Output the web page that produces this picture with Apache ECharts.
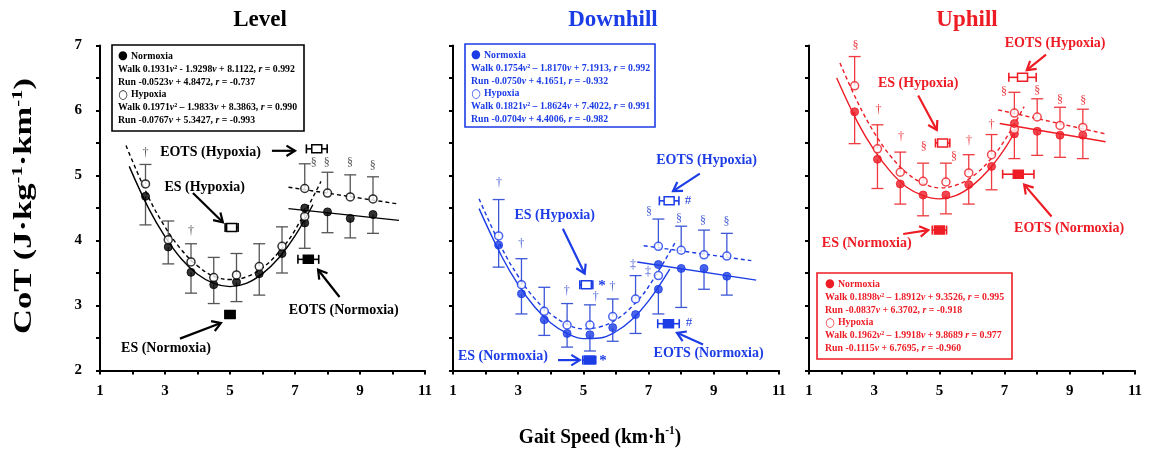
<!DOCTYPE html>
<html><head><meta charset="utf-8">
<script src="https://cdn.jsdelivr.net/npm/echarts@6/dist/echarts.min.js"></script>
<style>html,body{margin:0;padding:0;background:#fff}#c{width:1152px;height:457px}</style>
</head><body><div id="c"></div>
<script>
// ---------------- DATA ----------------
const xTickLabels = [1, 3, 5, 7, 9, 11];
const yTickLabels = [2, 3, 4, 5, 6, 7];
const walkSpeeds = [2.4, 3.1, 3.8, 4.5, 5.2, 5.9, 6.6, 7.3];
const runSpeeds = [7.3, 8.0, 8.7, 9.4];

// Level
const levelWalkN   = [4.68, 3.90, 3.51, 3.32, 3.36, 3.49, 3.80, 4.27];
const levelWalkNsd = [0.44, 0.26, 0.32, 0.29, 0.30, 0.33, 0.30, null];
const levelWalkH   = [4.87, 4.01, 3.67, 3.43, 3.47, 3.60, 3.91, 4.37];
const levelWalkHsd = [0.30, 0.29, 0.28, 0.31, 0.33, 0.35, 0.30, null];
const levelRunN    = [4.50, 4.44, 4.34, 4.40];
const levelRunNsd  = [0.62, 0.32, 0.30, 0.29];
const levelRunH    = [4.80, 4.73, 4.67, 4.64];
const levelRunHsd  = [0.38, 0.32, 0.34, 0.34];
const levelFitSpeedN = [1.9, 2.5, 3, 3.5, 4, 4.5, 5, 5.5, 6, 6.5, 7, 7.55];
const levelFitN      = [5.14, 4.49, 4.06, 3.72, 3.48, 3.34, 3.29, 3.34, 3.49, 3.73, 4.07, 4.55];
const levelFitSpeedH = [1.8, 2.5, 3, 3.5, 4, 4.5, 5, 5.5, 6, 6.5, 7, 7.8];
const levelFitH      = [5.46, 4.66, 4.21, 3.86, 3.61, 3.45, 3.40, 3.44, 3.58, 3.82, 4.16, 4.91];
const levelRunFitSpeedN = [6.8, 10.2];
const levelRunFitN      = [4.49, 4.31];
const levelRunFitSpeedH = [6.8, 10.2];
const levelRunFitH      = [4.82, 4.56];
// [speed, CoT, speed SD, normoxia?]
const levelThresholds = [[5.0, 2.86, 0.15, 1], [5.05, 4.20, 0.2, 0], [7.41, 3.71, 0.32, 1], [7.67, 5.41, 0.32, 0]];

// Downhill
const dhWalkN   = [3.93, 3.18, 2.78, 2.57, 2.55, 2.66, 2.86, 3.25];
const dhWalkNsd = [0.34, 0.31, 0.24, 0.21, 0.25, 0.21, 0.29, 0.38];
const dhWalkH   = [4.07, 3.32, 2.91, 2.70, 2.70, 2.83, 3.10, 3.46];
const dhWalkHsd = [0.56, 0.40, 0.37, 0.33, 0.31, 0.27, 0.36, null];
const dhRunN    = [3.63, 3.57, 3.57, 3.45];
const dhRunNsd  = [null, 0.60, 0.32, 0.29];
const dhRunH    = [3.91, 3.85, 3.78, 3.76];
const dhRunHsd  = [0.42, 0.37, 0.38, 0.35];
const dhFitSpeedN = [1.8, 2.5, 3, 3.5, 4, 4.5, 5, 5.5, 6, 6.5, 7, 7.65];
const dhFitN      = [4.49, 3.75, 3.32, 2.98, 2.73, 2.57, 2.49, 2.50, 2.60, 2.79, 3.07, 3.56];
const dhFitSpeedH = [1.8, 2.5, 3, 3.5, 4, 4.5, 5, 5.5, 6, 6.5, 7, 7.85];
const dhFitH      = [4.64, 3.88, 3.45, 3.11, 2.87, 2.71, 2.64, 2.67, 2.78, 2.99, 3.29, 4.00];
const dhRunFitSpeedN = [6.65, 10.3];
const dhRunFitN      = [3.67, 3.39];
const dhRunFitSpeedH = [6.85, 10.15];
const dhRunFitH      = [3.92, 3.69];
const dhThresholds = [[5.18, 2.16, 0.2, 1], [5.09, 3.32, 0.2, 0], [7.61, 2.72, 0.33, 1], [7.63, 4.61, 0.3, 0]];

// Uphill
const upWalkN   = [5.98, 5.25, 4.87, 4.70, 4.70, 4.86, 5.14, 5.64];
const upWalkNsd = [0.49, 0.45, 0.31, 0.32, 0.29, 0.30, 0.36, null];
const upWalkH   = [6.38, 5.41, 5.05, 4.91, 4.90, 5.04, 5.32, 5.71];
const upWalkHsd = [0.45, 0.37, 0.31, 0.28, 0.29, 0.28, 0.31, null];
const upRunN    = [5.80, 5.68, 5.62, 5.62];
const upRunNsd  = [0.54, 0.37, 0.34, 0.36];
const upRunH    = [5.96, 5.90, 5.77, 5.74];
const upRunHsd  = [0.32, 0.28, 0.28, 0.28];
const upFitSpeedN = [1.85, 2.5, 3, 3.5, 4, 4.5, 5, 5.5, 6, 6.5, 7, 7.4];
const upFitN      = [6.50, 5.81, 5.39, 5.06, 4.82, 4.69, 4.64, 4.69, 4.84, 5.08, 5.41, 5.75];
const upFitSpeedH = [1.95, 2.5, 3, 3.5, 4, 4.5, 5, 5.5, 6, 6.5, 7, 7.6];
const upFitH      = [6.73, 6.12, 5.66, 5.30, 5.04, 4.88, 4.81, 4.85, 4.98, 5.21, 5.54, 6.06];
const upRunFitSpeedN = [6.85, 10.1];
const upRunFitN      = [5.80, 5.52];
const upRunFitSpeedH = [6.8, 10.1];
const upRunFitH      = [6.01, 5.64];
const upThresholds = [[5.0, 4.16, 0.22, 1], [5.10, 5.50, 0.22, 0], [7.42, 5.02, 0.48, 1], [7.55, 6.51, 0.42, 0]];

// Legend texts ([v]/[r] = italic, leading symbol separate)
const levelLegend = [['●', 'Normoxia'], ['', 'Walk 0.1931[v]² - 1.9298[v] + 8.1122, [r] = 0.992'], ['', 'Run -0.0523[v] + 4.8472, [r] = -0.737'],
  ['○', 'Hypoxia'], ['', 'Walk 0.1971[v]² – 1.9833[v] + 8.3863, [r] = 0.990'], ['', 'Run -0.0767[v] + 5.3427, [r] = -0.993']];
const dhLegend = [['●', 'Normoxia'], ['', 'Walk 0.1754[v]² – 1.8170[v] + 7.1913, [r] = 0.992'], ['', 'Run -0.0750[v] + 4.1651, [r] = -0.932'],
  ['○', 'Hypoxia'], ['', 'Walk 0.1821[v]² – 1.8624[v] + 7.4022, [r] = 0.991'], ['', 'Run -0.0704[v] + 4.4006, [r] = -0.982']];
const upLegend = [['●', 'Normoxia'], ['', 'Walk 0.1898[v]² – 1.8912[v] + 9.3526, [r] = 0.995'], ['', 'Run -0.0837[v] + 6.3702, [r] = -0.918'],
  ['○', 'Hypoxia'], ['', 'Walk 0.1962[v]² – 1.9918[v] + 9.8689 [r] = 0.977'], ['', 'Run -0.1115[v] + 6.7695, [r] = -0.960']];

// ---------------- LAYOUT / ANNOTATIONS ----------------
const FONT = 'Liberation Serif';
const annotations = {
  level: {
    notes: [['EOTS (Hypoxia)', 4.40, 5.35], ['ES (Hypoxia)', 4.22, 4.82], ['EOTS (Normoxia)', 8.50, 2.93], ['ES (Normoxia)', 3.03, 2.34]],
    arrows: [[6.29, 5.38, 7.0, 5.38], [3.86, 4.73, 4.78, 4.28], [8.37, 3.13, 7.71, 3.55], [3.46, 2.49, 4.72, 2.73]],
    sig: [['†', 2.4, 5.35], ['†', 3.8, 4.15], ['§', 7.58, 5.19], ['§', 7.98, 5.19], ['§', 8.69, 5.19], ['§', 9.39, 5.15]]
  },
  dh: {
    notes: [['EOTS (Hypoxia)', 8.78, 5.24], ['ES (Hypoxia)', 4.12, 4.38], ['ES (Normoxia)', 2.53, 2.22], ['EOTS (Normoxia)', 8.84, 2.26]],
    arrows: [[8.57, 5.03, 7.75, 4.76], [4.37, 4.18, 5.04, 3.49], [4.22, 2.16, 4.89, 2.16], [8.67, 2.40, 7.87, 2.58]],
    sig: [['†', 2.41, 4.88], ['†', 3.09, 3.95], ['†', 4.49, 3.23], ['†', 5.38, 3.13], ['†', 5.89, 3.28], ['‡', 6.52, 3.62], ['‡', 6.98, 3.52],
      ['§', 7.01, 4.44], ['§', 7.93, 4.33], ['§', 8.67, 4.31], ['§', 9.39, 4.29], ['#', 8.21, 4.62], ['*', 5.57, 3.30], ['#', 8.24, 2.74], ['*', 5.60, 2.15]]
  },
  up: {
    notes: [['EOTS (Hypoxia)', 8.55, 7.03], ['ES (Hypoxia)', 4.35, 6.42], ['EOTS (Normoxia)', 8.98, 4.18], ['ES (Normoxia)', 2.77, 3.95]],
    arrows: [[8.27, 6.86, 7.68, 6.62], [4.35, 6.23, 4.92, 5.70], [8.44, 4.37, 7.60, 4.86], [3.89, 4.10, 4.66, 4.16]],
    sig: [['§', 2.43, 7.0], ['†', 3.13, 6.01], ['†', 3.82, 5.59], ['§', 4.52, 5.44], ['§', 5.45, 5.29], ['†', 5.91, 5.53], ['†', 6.60, 5.78],
      ['§', 6.98, 6.29], ['§', 8.0, 6.30], ['§', 8.70, 6.17], ['§', 9.41, 6.15]]
  }
};

const panels = [
  { title: 'Level', color: '#000000', err: '#555555', sig: '#555555', arrowW: 2.2,
    grid: { left: 100, top: 45.5, width: 325, height: 325 }, titleX: 260,
    legendBox: { x: 112, y: 45, w: 192, h: 86, tx: 118, ty: 56 },
    walkN: levelWalkN, walkNsd: levelWalkNsd, walkH: levelWalkH, walkHsd: levelWalkHsd,
    runN: levelRunN, runNsd: levelRunNsd, runH: levelRunH, runHsd: levelRunHsd,
    fitSN: levelFitSpeedN, fitN: levelFitN, fitSH: levelFitSpeedH, fitH: levelFitH,
    rfSN: levelRunFitSpeedN, rfN: levelRunFitN, rfSH: levelRunFitSpeedH, rfH: levelRunFitH,
    thr: levelThresholds, legend: levelLegend, ann: annotations.level },
  { title: 'Downhill', color: '#1c3de6', err: '#3d57d6', sig: '#4b63d6', arrowW: 2.2,
    grid: { left: 453, top: 45.5, width: 326, height: 325 }, titleX: 613,
    legendBox: { x: 465, y: 44, w: 190, h: 83, tx: 471, ty: 55 },
    walkN: dhWalkN, walkNsd: dhWalkNsd, walkH: dhWalkH, walkHsd: dhWalkHsd,
    runN: dhRunN, runNsd: dhRunNsd, runH: dhRunH, runHsd: dhRunHsd,
    fitSN: dhFitSpeedN, fitN: dhFitN, fitSH: dhFitSpeedH, fitH: dhFitH,
    rfSN: dhRunFitSpeedN, rfN: dhRunFitN, rfSH: dhRunFitSpeedH, rfH: dhRunFitH,
    thr: dhThresholds, legend: dhLegend, ann: annotations.dh },
  { title: 'Uphill', color: '#ee1c25', err: '#ee3a40', sig: '#ee3a40', arrowW: 2.2,
    grid: { left: 809, top: 45.5, width: 326, height: 325 }, titleX: 967,
    legendBox: { x: 817, y: 273, w: 195, h: 86, tx: 825, ty: 284 },
    walkN: upWalkN, walkNsd: upWalkNsd, walkH: upWalkH, walkHsd: upWalkHsd,
    runN: upRunN, runNsd: upRunNsd, runH: upRunH, runHsd: upRunHsd,
    fitSN: upFitSpeedN, fitN: upFitN, fitSH: upFitSpeedH, fitH: upFitH,
    rfSN: upRunFitSpeedN, rfN: upRunFitN, rfSH: upRunFitSpeedH, rfH: upRunFitH,
    thr: upThresholds, legend: upLegend, ann: annotations.up }
];

// ---------------- RENDERERS ----------------
function vErrRender(color) {
  return function (params, api) {
    const x = api.value(0), y = api.value(1), y2 = api.value(2);
    const a = api.coord([x, y]), b = api.coord([x, y2]);
    const hw = 6;
    return { type: 'group', children: [
      { type: 'line', shape: { x1: a[0], y1: a[1], x2: b[0], y2: b[1] }, style: { stroke: color, lineWidth: 1.3 } },
      { type: 'line', shape: { x1: b[0] - hw, y1: b[1], x2: b[0] + hw, y2: b[1] }, style: { stroke: color, lineWidth: 1.3 } }
    ] };
  };
}
function thrRender(color) {
  return function (params, api) {
    const x = api.value(0), y = api.value(1), sd = api.value(2), filled = api.value(3);
    const p = api.coord([x, y]), l = api.coord([x - sd, y]), r = api.coord([x + sd, y]);
    const ch = 4.5, w = 10, h = 8;
    return { type: 'group', children: [
      { type: 'line', shape: { x1: l[0], y1: p[1], x2: r[0], y2: p[1] }, style: { stroke: color, lineWidth: 1.6 } },
      { type: 'line', shape: { x1: l[0], y1: p[1] - ch, x2: l[0], y2: p[1] + ch }, style: { stroke: color, lineWidth: 1.6 } },
      { type: 'line', shape: { x1: r[0], y1: p[1] - ch, x2: r[0], y2: p[1] + ch }, style: { stroke: color, lineWidth: 1.6 } },
      { type: 'rect', shape: { x: p[0] - w / 2, y: p[1] - h / 2, width: w, height: h },
        style: { fill: filled ? color : '#ffffff', stroke: color, lineWidth: 1.5 } }
    ] };
  };
}
function arrowRender(color, w) {
  return function (params, api) {
    const a = api.coord([api.value(0), api.value(1)]), b = api.coord([api.value(2), api.value(3)]);
    const ang = Math.atan2(b[1] - a[1], b[0] - a[0]);
    const L = 10, sp = 0.55;
    const h1 = [b[0] - L * Math.cos(ang - sp), b[1] - L * Math.sin(ang - sp)];
    const h2 = [b[0] - L * Math.cos(ang + sp), b[1] - L * Math.sin(ang + sp)];
    return { type: 'group', children: [
      { type: 'line', shape: { x1: a[0], y1: a[1], x2: b[0], y2: b[1] }, style: { stroke: color, lineWidth: w } },
      { type: 'polyline', shape: { points: [h1, b, h2] }, style: { stroke: color, lineWidth: w, fill: null } }
    ] };
  };
}
function textRender(list, colorFn, fontFn) {
  return function (params, api) {
    const item = list[params.dataIndex];
    const p = api.coord([api.value(0), api.value(1)]);
    return { type: 'text', x: p[0], y: p[1],
      style: { text: item[0], fill: colorFn(item[0]), font: fontFn(item[0]), align: 'center', verticalAlign: 'middle' } };
  };
}
function pairs(xs, ys) { return xs.map((x, k) => [x, ys[k]]); }
function errRows(xs, vals, sds, sign) {
  const out = [];
  vals.forEach((v, k) => { if (sds[k] != null) out.push([xs[k], v, +(v + sign * sds[k]).toFixed(3)]); });
  return out;
}

// ---------------- BUILD OPTION ----------------
const grids = [], xAxes = [], yAxes = [], series = [], graphics = [];
panels.forEach((P, i) => {
  grids.push(Object.assign({ containLabel: false, outerBoundsMode: 'none' }, P.grid));
  xAxes.push({ type: 'value', gridIndex: i, min: 1, max: 11, interval: 1,
    axisLine: { show: true, onZero: false, lineStyle: { color: '#000', width: 2 } },
    axisTick: { show: true, inside: false, length: 4, lineStyle: { color: '#000', width: 2 } },
    axisLabel: { margin: 13, color: '#000', fontFamily: FONT, fontWeight: 'bold', fontSize: 15,
      formatter: v => xTickLabels.includes(v) ? String(v) : '' },
    splitLine: { show: false } });
  yAxes.push({ type: 'value', gridIndex: i, min: 2, max: 7, interval: 0.5,
    axisLine: { show: true, onZero: false, lineStyle: { color: '#000', width: 2 } },
    axisTick: { show: true, inside: false, length: 4, lineStyle: { color: '#000', width: 2 } },
    axisLabel: { show: i === 0, margin: 18, color: '#000', fontFamily: FONT, fontWeight: 'bold', fontSize: 15,
      formatter: v => yTickLabels.includes(v) ? String(v) : '' },
    splitLine: { show: false } });
  const base = { xAxisIndex: i, yAxisIndex: i, silent: true, animation: false };
  const errData = []
    .concat(errRows(walkSpeeds, P.walkH, P.walkHsd, +1))
    .concat(errRows(walkSpeeds, P.walkN, P.walkNsd, -1))
    .concat(errRows(runSpeeds, P.runH, P.runHsd, +1))
    .concat(errRows(runSpeeds, P.runN, P.runNsd, -1));
  series.push(Object.assign({ type: 'custom', z: 2, data: errData, encode: { x: 0, y: [1, 2] }, renderItem: vErrRender(P.err) }, base));
  const lineStyleN = { color: P.color, width: 1.4, type: 'solid' };
  const lineStyleH = { color: P.color, width: 1.4, type: [4, 3] };
  [[P.fitSN, P.fitN, lineStyleN, true], [P.fitSH, P.fitH, lineStyleH, true], [P.rfSN, P.rfN, lineStyleN, false], [P.rfSH, P.rfH, lineStyleH, false]]
    .forEach(([xs, ys, ls, sm]) => {
      series.push(Object.assign({ type: 'line', z: 3, data: pairs(xs, ys), smooth: sm ? 0.4 : false, showSymbol: false, symbol: 'none',
        lineStyle: ls, itemStyle: { color: P.color } }, base));
    });
  const filled = { color: P.color, borderColor: P.color, borderWidth: 1 };
  const open = { color: '#ffffff', borderColor: P.color, borderWidth: 1.5 };
  [[walkSpeeds, P.walkN, filled], [walkSpeeds, P.walkH, open], [runSpeeds, P.runN, filled], [runSpeeds, P.runH, open]]
    .forEach(([xs, ys, st]) => {
      series.push(Object.assign({ type: 'scatter', z: 5, symbol: 'circle', symbolSize: 8, data: pairs(xs, ys), itemStyle: st }, base));
    });
  series.push(Object.assign({ type: 'custom', z: 6, data: P.thr, encode: { x: 0, y: 1 }, renderItem: thrRender(P.color) }, base));
  series.push(Object.assign({ type: 'custom', z: 6, data: P.ann.arrows, encode: { x: [0, 2], y: [1, 3] }, renderItem: arrowRender(P.color, P.arrowW) }, base));
  series.push(Object.assign({ type: 'custom', z: 7, data: P.ann.notes.map(r => [r[1], r[2]]), encode: { x: 0, y: 1 },
    renderItem: textRender(P.ann.notes, () => P.color, () => 'bold 14px "' + FONT + '"') }, base));
  series.push(Object.assign({ type: 'custom', z: 7, data: P.ann.sig.map(r => [r[1], r[2]]), encode: { x: 0, y: 1 },
    renderItem: textRender(P.ann.sig, s => (s === '*' || s === '#') ? P.color : P.sig,
      s => s === '*' ? 'bold 15px "' + FONT + '"' : (s === '#' ? '13px "' + FONT + '"' : '12px "' + FONT + '"')) }, base));

  graphics.push({ type: 'text', x: P.titleX, y: 20, style: { text: P.title, fill: P.color, font: 'bold 23px "' + FONT + '"', align: 'center', verticalAlign: 'middle' } });
  const B = P.legendBox;
  graphics.push({ type: 'rect', shape: { x: B.x, y: B.y, width: B.w, height: B.h }, style: { fill: '#fff', stroke: P.color, lineWidth: 1.6 }, z: 10 });
  P.legend.forEach((row, k) => {
    const parts = row[1].split(/\[(v|r)\]/);
    const txt = (row[0] ? '{s|' + row[0] + '} ' : '') + parts.map((p, j) => j % 2 ? '{i|' + p + '}' : (p ? '{b|' + p + '}' : '')).join('');
    graphics.push({ type: 'text', x: B.tx, y: B.ty + k * 12.9, scaleX: 0.935, z: 11,
      style: { text: txt, verticalAlign: 'middle', align: 'left',
        rich: { b: { fontFamily: FONT, fontWeight: 'bold', fontSize: 10.5, fill: P.color },
                i: { fontFamily: FONT, fontWeight: 'bold', fontStyle: 'italic', fontSize: 10.5, fill: P.color },
                s: { fontFamily: 'DejaVu Sans', fontSize: 12, fill: P.color } } } });
  });
});

const richTitle = (n, s) => ({
  n: { fontFamily: FONT, fontWeight: 'bold', fontSize: n, fill: '#000', lineHeight: n + 4 },
  s: { fontFamily: FONT, fontWeight: 'bold', fontSize: s, fill: '#000', verticalAlign: 'top', lineHeight: n + 4 }
});
graphics.push({ type: 'text', x: 25, y: 206, rotation: Math.PI / 2, scaleX: 1.38,
  style: { text: '{n|CoT (J·kg}{s|-1}{n|·km}{s|-1}{n|)}', align: 'center', verticalAlign: 'middle', rich: richTitle(25, 15) } });
graphics.push({ type: 'text', x: 600, y: 437, scaleX: 0.88,
  style: { text: '{n|Gait Speed (km·h}{s|-1}{n|)}', align: 'center', verticalAlign: 'middle', rich: richTitle(22, 13) } });

const chart = echarts.init(document.getElementById('c'), null, { renderer: 'canvas' });
chart.setOption({
  backgroundColor: '#ffffff',
  animation: false,
  grid: grids, xAxis: xAxes, yAxis: yAxes, series: series, graphic: graphics
});
</script></body></html>
